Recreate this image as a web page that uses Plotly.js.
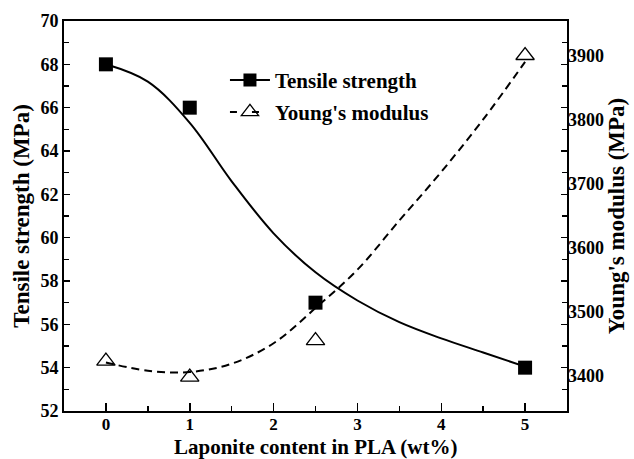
<!DOCTYPE html>
<html>
<head>
<meta charset="utf-8">
<script src="https://cdn.plot.ly/plotly-3.0.1.min.js"></script>
<style>
  html, body { margin: 0; padding: 0; background: #fff; }
  #chart { width: 634px; height: 459px; }
</style>
</head>
<body>
<div id="chart"></div>
<script>
// Measured points
const content = [0, 1, 2.5, 5];                 // Laponite content (wt%)
const tensile = [68, 66, 57, 54];               // Tensile strength (MPa)
const modulus = [3422, 3397, 3454, 3900];       // Young's modulus (MPa)

// Fitted trend curves
const fitX = [0, 0.5, 1, 1.5, 2, 2.5, 3, 3.5, 4, 4.5, 5];
const fitTensile = [68.0, 67.2, 65.3, 62.6, 60.2, 58.4, 57.1, 56.1, 55.35, 54.7, 54.05];
const fitModulus = [3420, 3407, 3405, 3418, 3450, 3505, 3565, 3642, 3718, 3800, 3890];

const xTicks = [0, 1, 2, 3, 4, 5];
const leftTicks = [52, 54, 56, 58, 60, 62, 64, 66, 68, 70];
const rightTicks = [3400, 3500, 3600, 3700, 3800, 3900];

const serif = '"Liberation Serif", serif';
const black = '#000';

const traces = [
  { x: fitX, y: fitTensile, mode: 'lines', line: { color: black, width: 2, shape: 'spline', smoothing: 1 },
    showlegend: false, hoverinfo: 'skip' },
  { x: fitX, y: fitModulus, yaxis: 'y2', mode: 'lines',
    line: { color: black, width: 2, dash: '8px,5px', shape: 'spline', smoothing: 1 },
    showlegend: false, hoverinfo: 'skip' },
  { x: content, y: tensile, mode: 'markers',
    marker: { symbol: 'square', size: 14, color: black }, showlegend: false },
  { x: content, y: modulus, yaxis: 'y2', mode: 'markers',
    marker: { symbol: 'triangle-up-open', size: 16, color: black, line: { width: 1.3, color: black } },
    showlegend: false },
  // legend keys, one legend box per row
  { x: [null], y: [null], mode: 'lines+markers', name: 'Tensile strength', legend: 'legend',
    line: { color: black, width: 2 }, marker: { symbol: 'square', size: 13, color: black } },
  { x: [null], y: [null], yaxis: 'y2', mode: 'lines+markers', name: "Young's modulus", legend: 'legend2',
    line: { color: black, width: 2, dash: '7px,15px' },
    marker: { symbol: 'triangle-up-open', size: 15, color: black, line: { width: 1.3, color: black } } }
];

const legendStyle = {
  xanchor: 'left', yanchor: 'middle',
  bgcolor: 'rgba(0,0,0,0)', borderwidth: 0,
  font: { family: serif, size: 21, color: black, weight: 'bold' },
  itemwidth: 40
};

const layout = {
  width: 634, height: 459,
  margin: { l: 64, r: 67, t: 21, b: 48 },
  paper_bgcolor: '#fff', plot_bgcolor: '#fff',
  font: { family: serif, color: black, size: 18, weight: 'bold' },
  showlegend: true,
  legend: Object.assign({ x: 0.32, y: 0.848 }, legendStyle),
  legend2: Object.assign({ x: 0.32, y: 0.766 }, legendStyle),
  xaxis: {
    range: [-0.5, 5.5], tickvals: xTicks, ticktext: xTicks.map(String),
    ticks: 'inside', ticklen: 8, tickwidth: 1.5, tickcolor: black,
    minor: { dtick: 0.5, ticks: 'inside', ticklen: 5, tickwidth: 1.5, tickcolor: black, showgrid: false },
    showline: true, linecolor: black, linewidth: 2, mirror: true,
    showgrid: false, zeroline: false, ticklabelstandoff: -3,
    tickfont: { family: serif, size: 17, weight: 'bold' }
  },
  yaxis: {
    range: [52, 70], tickvals: leftTicks, ticktext: leftTicks.map(String),
    ticks: 'inside', ticklen: 6, tickwidth: 1.5, tickcolor: black,
    minor: { dtick: 1, ticks: 'inside', ticklen: 5, tickwidth: 1.5, tickcolor: black, showgrid: false },
    showline: true, linecolor: black, linewidth: 2, mirror: 'ticks',
    showgrid: false, zeroline: false,
    tickfont: { family: serif, size: 18, weight: 'bold' },
    title: { text: 'Tensile strength (MPa)', standoff: 4,
             font: { family: serif, size: 23, weight: 'bold' } }
  },
  yaxis2: {
    overlaying: 'y', side: 'right',
    range: [3344, 3954], tickvals: rightTicks, ticktext: rightTicks.map(String),
    ticks: '', showline: false, showgrid: false, zeroline: false,
    tickfont: { family: serif, size: 18, weight: 'bold' },
    title: { text: "Young's modulus (MPa)", standoff: 4,
             font: { family: serif, size: 23, weight: 'bold' } }
  },
  annotations: [{
    text: 'Laponite content in PLA (wt%)', showarrow: false,
    xref: 'paper', yref: 'paper', x: 0.5, y: -0.093, xanchor: 'center', yanchor: 'middle',
    font: { family: serif, size: 21, weight: 'bold', color: black }
  }]
};

Plotly.newPlot('chart', traces, layout, { displayModeBar: false, staticPlot: true });
</script>
</body>
</html>
